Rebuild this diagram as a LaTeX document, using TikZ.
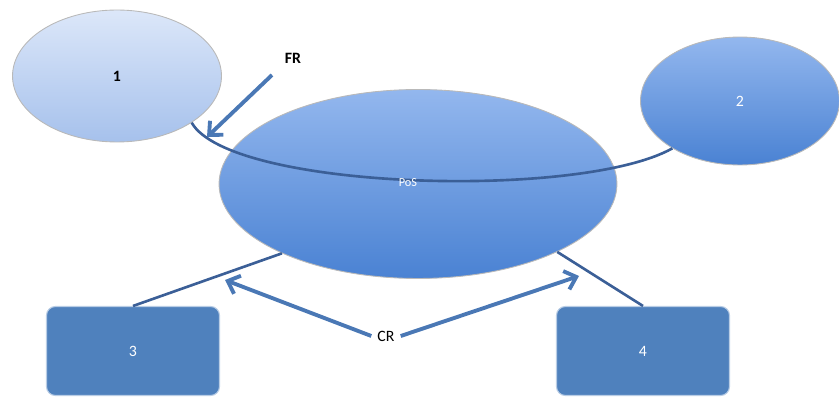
\documentclass[tikz,border=0pt]{standalone}
\usepackage{fontspec}
\setmainfont{Carlito}
\usetikzlibrary{shapes.geometric,arrows.meta,positioning,calc}
\definecolor{PaleTop}{HTML}{DCE7F9}
\definecolor{PaleBot}{HTML}{A6C1EC}
\definecolor{MidTop}{HTML}{93B7EE}
\definecolor{MidBot}{HTML}{4A82D3}
\definecolor{BoxBlue}{HTML}{4F81BD}
\definecolor{LinkBlue}{HTML}{3B5F97}
\definecolor{ArrowBlue}{HTML}{4A78B5}

\begin{document}
\begin{tikzpicture}[x=0.02cm,y=-0.02cm,every node/.style={font=\small}]
  \useasboundingbox (0,0) rectangle (839,401);
  \tikzset{
    blob/.style={ellipse,draw=gray!55,line width=0.5pt,inner sep=0pt},
    unitbox/.style={rectangle,rounded corners=5pt,fill=BoxBlue,draw=BoxBlue!40,line width=0.6pt,
      minimum width=3.46cm,minimum height=1.78cm,text=white},
    link/.style={draw=LinkBlue,line width=1.5pt},
    flow/.style={draw=ArrowBlue,line width=2.2pt,-{Straight Barb[length=6pt,width=11pt,line width=2.2pt]}}
  }
  \node[blob,top color=PaleTop,bottom color=PaleBot,minimum width=4.18cm,minimum height=2.64cm] (ell1) at (117,76) {\textbf{1}};
  \node[blob,top color=MidTop,bottom color=MidBot,minimum width=3.98cm,minimum height=2.56cm,text=white] (ell2) at (740,101) {2};
  \node[blob,top color=MidTop,bottom color=MidBot,minimum width=7.96cm,minimum height=3.78cm] (pos) at (418,184) {};
  \node[unitbox] (box3) at (133,351) {3};
  \node[unitbox] (box4) at (643,351) {4};
  \draw[link] (ell1.-32) .. controls (230,190) and (580,200) .. (ell2.215);
  \node[text=white,font=\scriptsize] (poslbl) at (408,183) {PoS};
  \draw[link] (box3.north) -- (pos.207);
  \draw[link] (box4.north) -- (pos.-26);
  \node (fr) at (293,58) {\textbf{FR}};
  \node (cr) at (386,336) {CR};
  \coordinate (frtail) at (272,75);
  \coordinate (frtip) at (207,137);
  \coordinate (crtipl) at (225,280);
  \coordinate (crtipr) at (579,276);
  \draw[flow] (frtail) -- (frtip);
  \draw[flow] (cr.west) -- (crtipl);
  \draw[flow] (cr.east) -- (crtipr);
\end{tikzpicture}
\end{document}
